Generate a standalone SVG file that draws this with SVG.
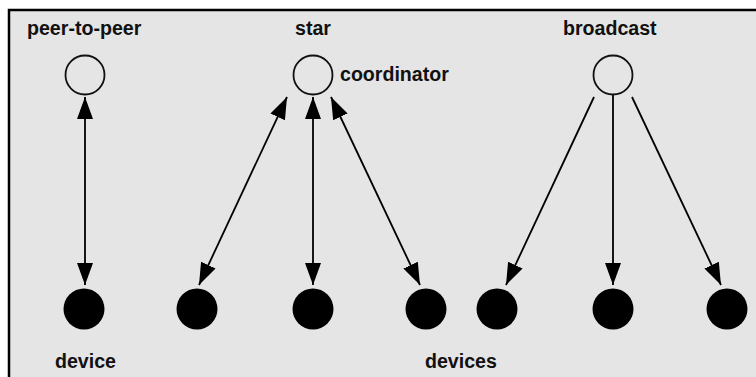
<svg xmlns="http://www.w3.org/2000/svg" width="756" height="377" viewBox="0 0 756 377">
<defs>
<style>
.lbl{font-family:"Liberation Sans",Arial,Helvetica,sans-serif;font-weight:bold;font-size:19.6px;fill:#111;}
.open{fill:none;stroke:#111;stroke-width:1.8;}
.dev{fill:#000;}
.edge{stroke:#000;stroke-width:1.8;fill:none;}
</style>
<marker id="ah" viewBox="0 0 22 16" refX="22" refY="8" markerWidth="22" markerHeight="16" markerUnits="userSpaceOnUse" orient="auto-start-reverse">
<path d="M0,0 L22,8 L0,16 z" fill="#000"/>
</marker>
</defs>
<rect x="0" y="0" width="756" height="377" fill="#ffffff"/>
<rect x="8" y="9" width="748" height="368" fill="#e5e5e5"/>
<path d="M9,377 V10 H756" fill="none" stroke="#000" stroke-width="2.5"/>

<g id="connectors">
<line class="edge" x1="85" y1="97" x2="85" y2="285" marker-start="url(#ah)" marker-end="url(#ah)"/>
<line class="edge" x1="287" y1="97" x2="199" y2="285" marker-start="url(#ah)" marker-end="url(#ah)"/>
<line class="edge" x1="313" y1="97" x2="313" y2="285" marker-start="url(#ah)" marker-end="url(#ah)"/>
<line class="edge" x1="331" y1="97" x2="420" y2="285" marker-start="url(#ah)" marker-end="url(#ah)"/>
<line class="edge" x1="594" y1="97" x2="506" y2="285" marker-end="url(#ah)"/>
<line class="edge" x1="613" y1="95" x2="613" y2="285" marker-end="url(#ah)"/>
<line class="edge" x1="632" y1="97" x2="721" y2="285" marker-end="url(#ah)"/>
</g>

<g id="p2p-peer"><circle class="open" cx="85" cy="75" r="19.5"/></g>
<g id="star-coordinator"><circle class="open" cx="313" cy="75" r="19.5"/></g>
<g id="broadcast-source"><circle class="open" cx="613" cy="75" r="19.5"/></g>

<g id="p2p-device"><circle class="dev" cx="84" cy="309" r="20.5"/></g>
<g id="star-dev1"><circle class="dev" cx="197" cy="309" r="20.5"/></g>
<g id="star-dev2"><circle class="dev" cx="313" cy="309" r="20.5"/></g>
<g id="star-dev3"><circle class="dev" cx="426" cy="309" r="20.5"/></g>
<g id="bc-dev1"><circle class="dev" cx="497" cy="309" r="20.5"/></g>
<g id="bc-dev2"><circle class="dev" cx="613" cy="309" r="20.5"/></g>
<g id="bc-dev3"><circle class="dev" cx="727" cy="309" r="20.5"/></g>

<g id="labels">
<text class="lbl" x="27" y="35">peer-to-peer</text>
<text class="lbl" x="295" y="35">star</text>
<text class="lbl" x="340" y="81">coordinator</text>
<text class="lbl" x="563" y="35">broadcast</text>
<text class="lbl" x="55" y="368">device</text>
<text class="lbl" x="425" y="368">devices</text>
</g>
</svg>
